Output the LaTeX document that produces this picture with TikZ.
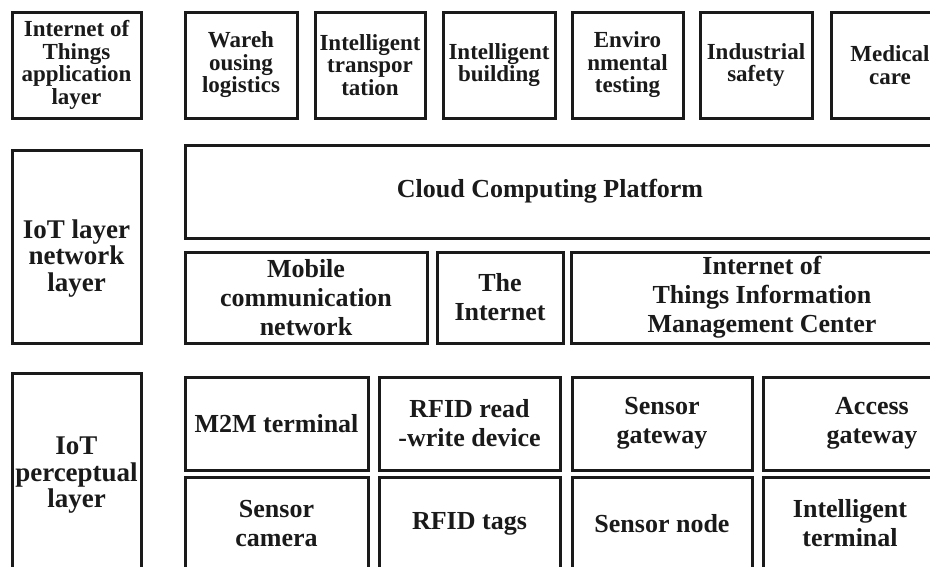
\documentclass[tikz,border=0pt]{standalone}
\usepackage{fontspec}
\setmainfont{Liberation Serif}
\usepackage{tikz}
\usepackage{xcolor}
\usetikzlibrary{positioning}

\definecolor{ink}{HTML}{1A1A1A}
\newcommand{\layfont}{\fontsize{26}{29}\selectfont\bfseries}
\newcommand{\topfont}{\fontsize{23}{22.5}\selectfont\bfseries}
\newcommand{\sidefont}{\fontsize{27}{26.5}\selectfont\bfseries}
\tikzset{
    box/.style={draw=ink, text=ink, line width=3pt, inner xsep=-15pt, inner ysep=0pt, align=center, font=\layfont},
    topbox/.style={box, font=\topfont},
    sidetext/.style={text=ink, inner sep=0pt, align=center, font=\sidefont},
    plain/.style={text=ink, inner sep=0pt, align=center, font=\layfont}
}

\begin{document}
\begin{tikzpicture}[x=1pt, y=-1pt]
                        \useasboundingbox (0,0) rectangle (930,566);
                        \clip (0,0) rectangle (930,566);
                        \fill[white] (0,0) rectangle (930,566);
                        \node[topbox, minimum width=129, minimum height=106] (app) at (76.5, 65) {Internet of\\Things\\application\\layer};
                        \node[topbox, minimum width=112, minimum height=106] (ware) at (241, 65) {Wareh\\ousing\\logistics};
                        \node[topbox, minimum width=110, minimum height=106] (trans) at (370, 65) {Intelligent\\transpor\\tation};
                        \node[topbox, minimum width=112, minimum height=106] (build) at (499, 65) {Intelligent\\building};
                        \node[topbox, minimum width=111, minimum height=106] (envir) at (627.5, 65) {Enviro\\nmental\\testing};
                        \node[topbox, minimum width=112, minimum height=106] (indus) at (756, 65) {Industrial\\safety};
                        \node[topbox, minimum width=118, minimum height=106] (medic) at (890, 65) {Medical\\care};
                        \node[box, minimum width=129, minimum height=193, label={[sidetext, name=nettext, yshift=-12pt]center:{IoT layer\\network\\layer}}] (net) at (76.5, 246.5) {};
                        \node[box, minimum width=775, minimum height=93] (cloud) at (572.5, 191.5) {};
                        \node[plain] (cloudtext) at (550, 191) {Cloud Computing Platform};
                        \node[box, minimum width=242, minimum height=91] (mobile) at (306, 297.5) {Mobile\\communication\\network};
                        \node[box, minimum width=126, minimum height=91] (inet) at (500, 297.5) {The\\Internet};
                        \node[box, minimum width=382, minimum height=91] (center) at (762, 297.5) {Internet of\\Things Information\\Management Center};
                        \node[box, minimum width=129, minimum height=227, label={[sidetext, name=perctext, yshift=11pt]center:{IoT\\perceptual\\layer}}] (perc) at (76.5, 486.5) {};
                        \node[box, minimum width=183, minimum height=93] (m2m) at (276.5, 423.5) {M2M terminal};
                        \node[box, minimum width=181, minimum height=93] (rfidrw) at (469.5, 423.5) {RFID read\\-write device};
                        \node[box, minimum width=180, minimum height=93] (sgate) at (662, 423.5) {Sensor\\gateway};
                        \node[box, minimum width=218, minimum height=93] (agate) at (872, 423.5) {Access\\gateway};
                        \node[box, minimum width=183, minimum height=93] (camera) at (276.5, 523.5) {Sensor\\camera};
                        \node[box, minimum width=181, minimum height=93] (tags) at (469.5, 523.5) {RFID tags};
                        \node[box, minimum width=180, minimum height=93] (snode) at (662, 523.5) {Sensor node};
                        \node[box, minimum width=174, minimum height=93] (iterm) at (850, 523.5) {Intelligent\\terminal};
                    \end{tikzpicture}
\end{document}
